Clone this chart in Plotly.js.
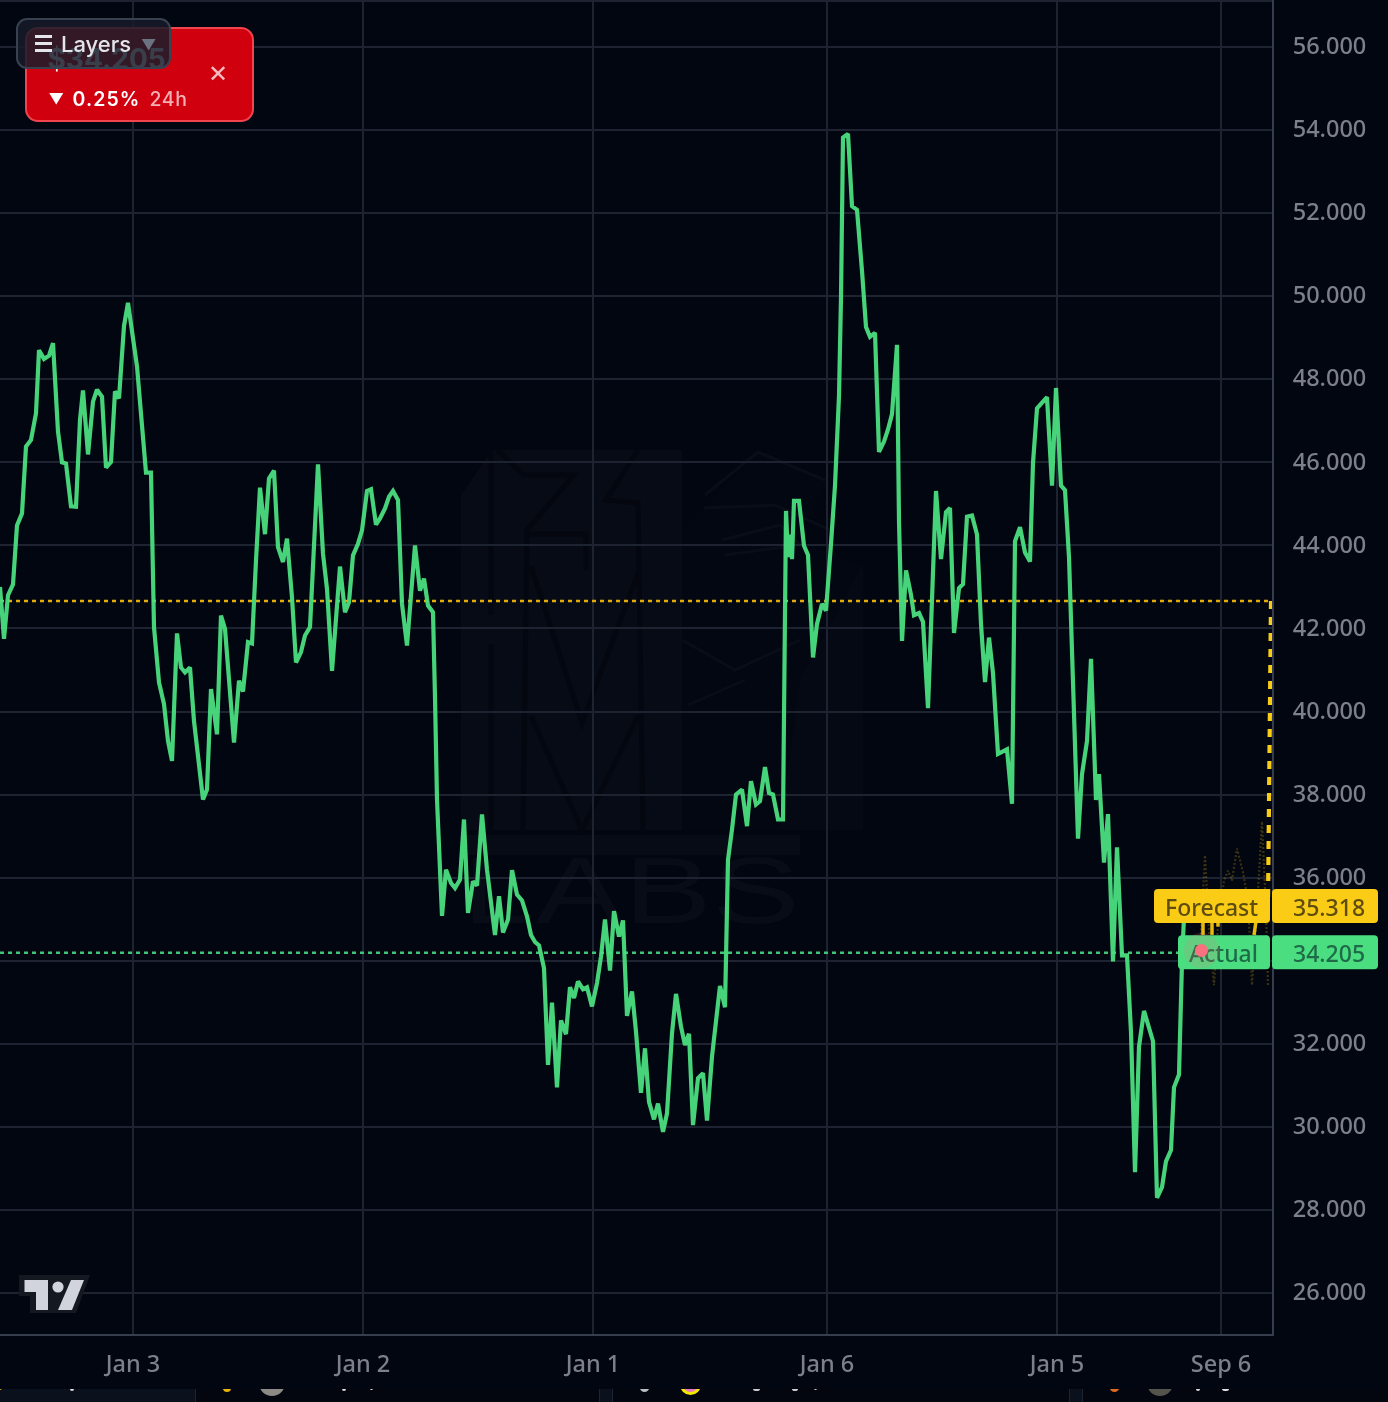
<!DOCTYPE html>
<html><head><meta charset="utf-8">
<script src="https://cdn.plot.ly/plotly-3.0.1.min.js"></script>
<style>
html{background:#020611}
html,body{margin:0;padding:0;width:1388px;height:1402px;overflow:hidden;font-family:Inter,"Noto Sans",sans-serif}
body{background:#020611;filter:blur(.45px)}
#wm,#plot,#strip,#card,#layers,#logo,#dot{position:absolute}
#wm{left:0;top:0}
#plot{left:0;top:0;width:1388px;height:1389px}
#strip{left:0;top:1389px;width:1388px;height:13px;background:#0b111c;overflow:hidden}
#strip .c{position:absolute;top:-20px;height:60px;background:#03060f;border:1.5px solid #1c2433;border-radius:16px;box-sizing:border-box}
#strip .i{position:absolute;border-radius:50%}
#card{left:24.5px;top:27px;width:229px;height:95px;box-sizing:border-box;background:#d0000e;border:2px solid #f0444f;border-radius:13px;color:#fff}
#card .p{position:absolute;left:21px;top:16px;font:700 28px Inter;line-height:28px;white-space:nowrap}
#card .d{position:absolute;top:58px;font:600 19.5px Inter;letter-spacing:1.1px;line-height:24px;white-space:nowrap}
#card .x{position:absolute;left:181px;top:32px;font:400 24px Inter;line-height:26px;color:#f8bcc0}
#layers{left:16px;top:18px;width:155px;height:51px;box-sizing:border-box;background:rgba(24,28,42,.85);border:2px solid #38414f;border-radius:11px;color:#e3e5ea;font:500 22px Inter;line-height:48px;white-space:nowrap}
#layers i{position:absolute;left:17px;width:17px;height:3px;background:#e3e5ea}
#layers b{position:absolute;left:43px;top:0;font-weight:500}
#layers u{position:absolute;left:123px;top:1px;text-decoration:none;color:#6b7280;font-size:15px}
#logo{left:17px;top:1272px}
#dot{width:13px;height:13px;border-radius:50%;background:#f9717f;box-shadow:0 0 0 11px rgba(249,113,127,.16)}
</style></head><body>
<svg id="wm" width="1388" height="1389" xmlns="http://www.w3.org/2000/svg">
  <path d="M461 495 L492 450 L682 450 L682 830 L461 830 Z" fill="#070b15"/>
  <path d="M682 530 L760 450 L830 480 L795 540 L863 565 L863 830 L682 830 Z" fill="#060a14" fill-opacity=".55"/>
  <path d="M863 565 L800 680 L780 830 L863 830 Z" fill="#070b15" fill-opacity=".5"/>
  <g fill="none" stroke="#04070f" stroke-width="5">
    <path d="M491 450 L491 615 M491 644 L491 830"/>
    <path d="M497 450 L524 475 L574 475 L527 530 L523 830"/>
    <path d="M524 534 L586 534 L586 570"/>
    <path d="M531 566 L582 723 L638 573 M531 716 L582 830 L638 716"/>
    <path d="M638 450 L606 500 L638 503 L643 830"/>
  </g>
  <g fill="none" stroke="#090d17" stroke-width="3">
    <path d="M705 495 L758 452 L825 480 M704 508 L775 505 L830 530 M722 540 L780 525 L800 545 L725 555"/>
    <path d="M682 640 L735 670 L800 640 M688 705 L745 680"/>
  </g>
  <rect x="463" y="835" width="337" height="20" fill="#070b15"/>
  <text x="462" y="923" font-family="Liberation Sans" font-size="94" font-weight="400" fill="#080c16" textLength="338" lengthAdjust="spacingAndGlyphs">LABS</text>
</svg>
<div id="plot"></div>
<div id="dot"></div>
<div id="strip">
  <div class="c" style="left:195px;width:405px"></div>
  <div class="c" style="left:612px;width:458px"></div>
  <div class="c" style="left:1082px;width:330px"></div>
  <div class="i" style="left:-3px;top:-4px;width:5px;height:5px;background:#e8a317"></div>
  <div class="i" style="left:70px;top:-2px;width:4px;height:4px;background:#ddd"></div>
  <div class="i" style="left:223px;top:-5px;width:8px;height:8px;background:#eab308"></div>
  <div class="i" style="left:259px;top:-19px;width:26px;height:26px;background:#8c8a84"></div>
  <div class="i" style="left:342px;top:-2px;width:4px;height:4px;background:#ddd"></div>
  <div class="i" style="left:370px;top:-2px;width:3px;height:3px;background:#ddd"></div>
  <div class="i" style="left:640px;top:-5px;width:9px;height:8px;background:#b8bcc4"></div>
  <div class="i" style="left:680px;top:-15px;width:21px;height:21px;background:#e879c0;border:3.5px solid #f5e600;box-sizing:border-box"></div>
  <div class="i" style="left:753px;top:-2px;width:7px;height:4px;background:#ccc"></div>
  <div class="i" style="left:792px;top:-2px;width:6px;height:4px;background:#ccc"></div>
  <div class="i" style="left:814px;top:-2px;width:3px;height:3px;background:#ccc"></div>
  <div class="i" style="left:1110px;top:-5px;width:9px;height:8px;background:#e26a1c"></div>
  <div class="i" style="left:1147px;top:-19px;width:26px;height:26px;background:#55544c"></div>
  <div class="i" style="left:1196px;top:-2px;width:4px;height:4px;background:#ddd"></div>
  <div class="i" style="left:1222px;top:-2px;width:7px;height:4px;background:#ddd"></div>
</div>
<div id="card">
  <div class="p">$34.205</div>
  <div class="d" style="left:22px;font-size:15px;letter-spacing:0">▼</div>
  <div class="d" style="left:46px">0.25%</div>
  <div class="d" style="left:123px;font-weight:500;color:#f6b0b5;letter-spacing:.6px">24h</div>
  <div class="x">✕</div>
</div>
<div id="layers">
  <i style="top:15px"></i><i style="top:22px"></i><i style="top:29px"></i>
  <b>Layers</b><u>▼</u>
</div>
<svg id="logo" width="76" height="44" xmlns="http://www.w3.org/2000/svg">
  <path d="M2 3 L73 3 L59 41 L13 41 L13 24 L2 24 Z" fill="#141820"/>
  <path d="M7.5 8 L31 8 L31 38 L19 38 L19 20 L7.5 20 Z" fill="#d1d4dc"/>
  <circle cx="41" cy="15" r="5.6" fill="#d1d4dc"/>
  <path d="M54 8 L67 8 L55 38 L41 38 Z" fill="#d1d4dc"/>
</svg>
<script>
var tickPositions = [133, 363, 593, 827, 1057, 1221];
var tickLabels = ['Jan 3', 'Jan 2', 'Jan 1', 'Jan 6', 'Jan 5', 'Sep 6'];
var priceTicks = [26,28,30,32,34,36,38,40,42,44,46,48,50,52,54,56];

var actualTime = [0,4,8,13,17,22,26,31,36,39,44,49,53,58,62,66,71,76,80,83,88,93,97,102,106,111,115,119,124,128,137,142,146,151,154,159,164,168,172,177,181,185,190,194,199,203,207,211,217,221,225,230,234,239,243,248,252,256,260,265,269,274,278,283,287,292,296,301,305,310,314,318,323,327,332,336,340,345,349,353,358,362,367,371,376,380,385,389,393,398,402,407,411,415,420,424,428,433,435,437,
442,446,451,455,460,464,468,473,477,482,487,491,495,499,503,508,512,517,522,527,531,535,539,544,548,552,557,561,566,570,574,578,583,587,592,597,601,605,610,614,619,623,627,632,636,641,645,649,654,658,663,667,672,676,681,685,689,693,698,703,707,712,717,720,725,728,732,736,742,747,751,756,760,765,769,773,778,783,
786,788,790,792,794,799,804,808,813,817,822,826,831,835,839,841,843,848,852,857,862,866,870,875,879,884,888,892,897,899,902,906,911,914,919,923,928,932,936,941,946,950,954,959,963,967,972,977,981,985,989,993,998,1003,1007,1012,1015,1020,1025,1030,1033,1037,1042,1047,1052,1056,1061,1065,1069,
1073,1075,1078,1082,1087,1091,1096,1099,1104,1108,1113,1117,1122,1127,1131,1135,1139,1144,1148,1153,1157,1162,1166,1171,1174,1179,1182,1185];
var actualValue = [43.0,41.75,42.8,43.06,44.48,44.77,46.38,46.54,47.18,48.7,48.49,48.57,48.87,46.74,46.0,45.97,44.94,44.93,47.02,47.73,46.19,47.46,47.75,47.58,45.87,46.01,47.71,47.54,49.28,49.84,48.31,46.86,45.75,45.75,42.03,40.7,40.18,39.29,38.81,41.88,41.06,40.94,41.06,39.77,38.81,37.88,38.12,40.54,39.45,42.31,41.99,40.5,39.25,40.74,40.48,41.67,41.64,43.64,45.39,44.27,45.61,45.8,43.96,43.6,44.16,42.75,41.18,41.43,41.83,42.03,43.96,45.95,43.8,42.95,40.98,42.35,43.49,42.39,42.63,43.76,44.04,44.36,45.31,45.35,44.5,44.65,44.89,45.17,45.31,45.09,42.59,41.59,42.91,44.0,42.91,43.2,42.55,42.39,40.34,37.88,
35.08,36.19,35.87,35.75,35.95,37.4,35.15,35.91,35.81,37.52,36.19,35.39,34.62,35.55,34.68,34.99,36.18,35.59,35.45,35.07,34.62,34.45,34.37,33.82,31.49,32.99,30.95,32.56,32.23,33.36,33.1,33.5,33.31,33.36,32.9,33.46,34.1,34.99,33.76,35.19,34.58,34.97,32.67,33.26,32.29,30.82,31.89,30.6,30.18,30.56,29.88,30.32,32.25,33.2,32.41,31.97,32.24,30.04,31.17,31.29,30.15,31.69,32.65,33.39,32.88,36.43,37.16,38.0,38.12,37.24,38.32,37.76,37.84,38.66,38.04,38.0,37.4,37.4,
44.83,43.72,44.26,43.67,45.07,45.07,43.99,43.77,41.3,42.11,42.59,42.43,44.04,45.44,47.6,49.96,53.82,53.91,52.17,52.08,50.61,49.26,49.02,49.12,46.25,46.5,46.79,47.16,48.83,44.58,41.7,43.4,42.81,42.32,42.37,42.16,40.08,42.86,45.31,43.67,44.8,44.9,41.89,42.97,43.07,44.69,44.72,44.26,42.11,40.71,41.78,40.92,38.98,39.04,39.09,37.78,44.1,44.44,43.83,43.61,45.98,47.3,47.43,47.57,45.44,47.79,45.44,45.33,43.72,
40.6,39.47,36.94,38.49,39.29,41.27,37.87,38.49,36.36,37.53,33.98,36.73,34.13,34.13,32.28,28.91,31.93,32.79,32.46,32.06,28.29,28.55,29.17,29.44,30.95,31.26,33.97,35.6];

var forecastFaintTime = [1200,1205,1209,1214,1218,1224,1228,1232,1237,1243,1248,1252,1256,1258,1262,1266,1268];
var forecastFaintValue = [34.25,36.54,34.73,33.41,34.85,35.93,36.17,35.93,36.7,36.13,35.45,33.41,34.85,35.6,37.35,35.2,33.41];
var forecastStubTime = [1203,1203,null,1212,1212,null,1218,1218,null,1254,1256];
var forecastStubValue = [34.95,34.62,null,34.95,34.62,null,34.95,34.82,null,34.62,34.95];

var forecastLevel = 42.66, actualLevel = 34.19;
var forecastValue = 35.318, actualLastValue = 34.205;
var forecastLevelTime = [0,1270], forecastDropTime = [1271,1268], forecastDropValue = [42.66,35.4];
var actualLevelTime = [0,1190];
var currentTime = 1201, currentValue = 34.25;

var PXW = 1272, PXH = 1334;
var yMax = 57.132, yMin = 25.011;
var pxPerUnit = PXH / (yMax - yMin);

function pill(x0, x1, val, fill){
  var r = 4, h = 17 / pxPerUnit, ry = r / pxPerUnit;
  var a = x0 / PXW, b = x1 / PXW, rx = r / PXW;
  var t = val + h, m = val - h;
  return {type:'path', xref:'paper', yref:'y', layer:'above', fillcolor:fill, line:{width:0},
    path:'M'+(a+rx)+','+t+' L'+(b-rx)+','+t+' Q'+b+','+t+' '+b+','+(t-ry)+' L'+b+','+(m+ry)+' Q'+b+','+m+' '+(b-rx)+','+m+
         ' L'+(a+rx)+','+m+' Q'+a+','+m+' '+a+','+(m+ry)+' L'+a+','+(t-ry)+' Q'+a+','+t+' '+(a+rx)+','+t+' Z'};
}
function lab(text, x, val, col){
  return {text:text, xref:'paper', yref:'y', x:(x+2)/PXW, y:val, yshift:-1, xanchor:'right', yanchor:'middle', showarrow:false,
          font:{family:'"Noto Sans",sans-serif', size:23, weight:500, color:col}};
}

var traces = [
  {x:forecastLevelTime, y:[forecastLevel,forecastLevel], mode:'lines', line:{color:'#e3aa0c', width:2.4, dash:'4px,4px'}, hoverinfo:'skip'},
  {x:actualLevelTime, y:[actualLevel,actualLevel], mode:'lines', line:{color:'#3fc578', width:2.4, dash:'4px,4px'}, hoverinfo:'skip'},
  {x:forecastFaintTime, y:forecastFaintValue, mode:'lines', line:{color:'rgba(250,204,21,0.22)', width:2.2, dash:'2px,2px'}, hoverinfo:'skip'},
  {x:forecastStubTime, y:forecastStubValue, mode:'lines', line:{color:'#e8b90f', width:3.5}, hoverinfo:'skip'},
  {x:forecastDropTime, y:forecastDropValue, mode:'lines', line:{color:'#facc15', width:4.2, dash:'8px,8px'}, hoverinfo:'skip'},
  {x:actualTime, y:actualValue, mode:'lines', line:{color:'#4ade80', width:4.2, shape:'linear'}, opacity:.95, hoverinfo:'skip'}
];

var layout = {
  width:1388, height:1389,
  margin:{l:0, r:116, t:0, b:55, pad:0},
  paper_bgcolor:'rgba(0,0,0,0)', plot_bgcolor:'rgba(0,0,0,0)',
  showlegend:false,
  font:{family:'"Noto Sans",sans-serif', color:'#787b86', size:23},
  xaxis:{type:'linear', range:[0,PXW], tickmode:'array', tickvals:tickPositions, ticktext:tickLabels,
    showgrid:true, gridcolor:'#1d2331', gridwidth:2, zeroline:false, showline:true, linecolor:'#363d4c', linewidth:2,
    ticks:'outside', ticklen:8, tickcolor:'rgba(0,0,0,0)', tickfont:{size:23.5, weight:500, color:'#7d808b'}},
  yaxis:{type:'linear', side:'right', range:[yMin,yMax], tickmode:'array', tickvals:priceTicks, tickformat:'.3f',
    showgrid:true, gridcolor:'#1d2331', gridwidth:2, zeroline:false, showline:true, linecolor:'#363d4c', linewidth:2,
    ticks:'outside', ticklen:14, tickcolor:'rgba(0,0,0,0)', ticklabelshift:-1, tickfont:{size:23.5, weight:500, color:'#7d808b'}},
  shapes:[
    {type:'line', xref:'paper', yref:'paper', x0:0, x1:1, y0:0.9993, y1:0.9993, line:{color:'#1d2331', width:2}, layer:'below'},
    pill(1154,1270,forecastValue,'#facc15'), pill(1272,1378,forecastValue,'#facc15'),
    pill(1178,1270,actualLastValue,'#4ade80'), pill(1272,1378,actualLastValue,'#4ade80')
  ],
  annotations:[
    lab('Forecast',1258,forecastValue,'#5e4c10'), lab('35.318',1365,forecastValue,'#5e4c10'),
    lab('Actual',1258,actualLastValue,'#1f6a48'), lab('34.205',1365,actualLastValue,'#1f6a48')
  ]
};

Plotly.newPlot('plot', traces, layout, {staticPlot:true, displayModeBar:false}).then(function(gd){
  var fl = gd._fullLayout;
  var d = document.getElementById('dot');
  d.style.left = (fl.xaxis._offset + fl.xaxis.l2p(currentTime) - 6.5) + 'px';
  d.style.top = (fl.yaxis._offset + fl.yaxis.l2p(currentValue) - 6.5) + 'px';
});
</script>
</body></html>
